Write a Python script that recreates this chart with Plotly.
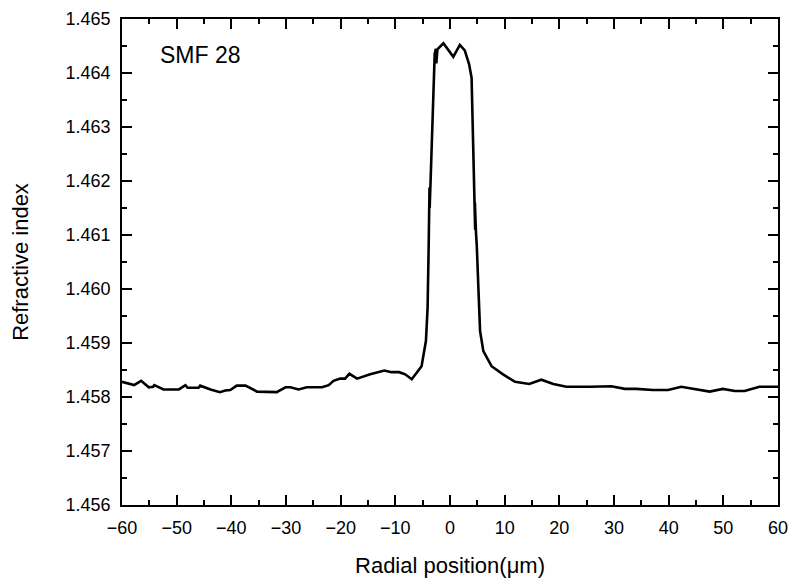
import plotly.graph_objects as go

radial_um = [
    -60.0, -57.8, -56.5, -55.1, -54.3, -54.1, -52.4, -49.6, -48.4, -48.0, -46.0, -45.7,
    -43.8, -42.1, -41.1, -40.2, -39.0, -37.4, -35.3, -31.7, -30.1, -29.2, -27.7, -26.2,
    -23.4, -22.2, -21.3, -20.1, -19.2, -18.4, -17.0, -14.6, -12.0, -10.7, -9.3, -8.2,
    -7.0, -5.2, -4.4, -4.1, -3.9, -3.8, -3.75, -3.72, -3.55, -3.2, -2.8, -2.6, -2.5,
    -2.3, -1.2, 0.6, 1.8, 2.7, 3.5, 3.95, 4.15, 4.45, 4.6, 4.55, 4.75, 4.9, 5.2, 5.5,
    6.1, 7.6, 9.7, 11.9, 14.5, 16.7, 18.9, 21.3, 25.6, 29.5, 32.0, 34.1, 37.1, 39.9,
    42.3, 45.1, 47.5, 49.9, 52.1, 53.9, 56.6, 60.0,
]
refractive_index = [
    1.45828, 1.45822, 1.45830, 1.45818, 1.45819, 1.45822, 1.45814, 1.45814, 1.45822, 1.45817, 1.45817, 1.45821,
    1.45814, 1.45809, 1.45812, 1.45813, 1.45821, 1.45821, 1.45810, 1.45809, 1.45818, 1.45818, 1.45814, 1.45818,
    1.45818, 1.45822, 1.45830, 1.45834, 1.45834, 1.45843, 1.45834, 1.45842, 1.45849, 1.45846, 1.45846, 1.45842,
    1.45833, 1.45857, 1.45904, 1.45965, 1.46080, 1.46130, 1.46188, 1.46150, 1.46200, 1.46300, 1.46435, 1.46445, 1.46418,
    1.46444, 1.46455, 1.46430, 1.46452, 1.46442, 1.46416, 1.46391, 1.46293, 1.46200, 1.46110, 1.46160, 1.46105, 1.46080, 1.46000, 1.45922,
    1.45885, 1.45857, 1.45842, 1.45828, 1.45824, 1.45832, 1.45824, 1.45819, 1.45819, 1.45820, 1.45815, 1.45815, 1.45813, 1.45813,
    1.45819, 1.45814, 1.45810, 1.45815, 1.45811, 1.45811, 1.45819, 1.45819,
]

x_ticks = list(range(-60, 61, 10))
y_ticks = [1.456, 1.457, 1.458, 1.459, 1.460, 1.461, 1.462, 1.463, 1.464, 1.465]

FONT = "Liberation Sans, Arial, sans-serif"

fig = go.Figure()
fig.add_trace(go.Scatter(
    x=radial_um, y=refractive_index, mode="lines",
    line=dict(color="black", width=2.6), showlegend=False,
))

axis_common = dict(
    showgrid=False, zeroline=False, showline=True, linecolor="black", linewidth=1.6,
    mirror="allticks", ticks="inside", ticklen=10, tickwidth=1.5, tickcolor="black",
    tickfont=dict(family=FONT, size=18, color="black"), automargin=False,
    ticklabelstandoff=6,
)

fig.update_xaxes(
    range=[-60, 60], tickvals=x_ticks,
    minor=dict(dtick=5, tick0=0, ticks="inside", ticklen=5, tickwidth=1.5, tickcolor="black"),
    title=dict(text="Radial position(μm)", font=dict(family=FONT, size=22, color="black"), standoff=20),
    **axis_common,
)
fig.update_yaxes(
    range=[1.456, 1.465], tickvals=y_ticks, tickformat=".3f",
    minor=dict(dtick=0.0005, tick0=1.456, ticks="inside", ticklen=5, tickwidth=1.5, tickcolor="black"),
    title=dict(text="Refractive index", font=dict(family=FONT, size=22, color="black"), standoff=31),
    **axis_common,
)

fig.add_annotation(
    x=0.0555, y=0.926, xref="paper", yref="paper", text="SMF 28", showarrow=False,
    xanchor="left", yanchor="middle", font=dict(family=FONT, size=23, color="black"),
)

fig.update_layout(
    width=792, height=581,
    margin=dict(l=122, r=14, t=19, b=76),
    plot_bgcolor="white", paper_bgcolor="white",
)

fig.write_html("out.html")
